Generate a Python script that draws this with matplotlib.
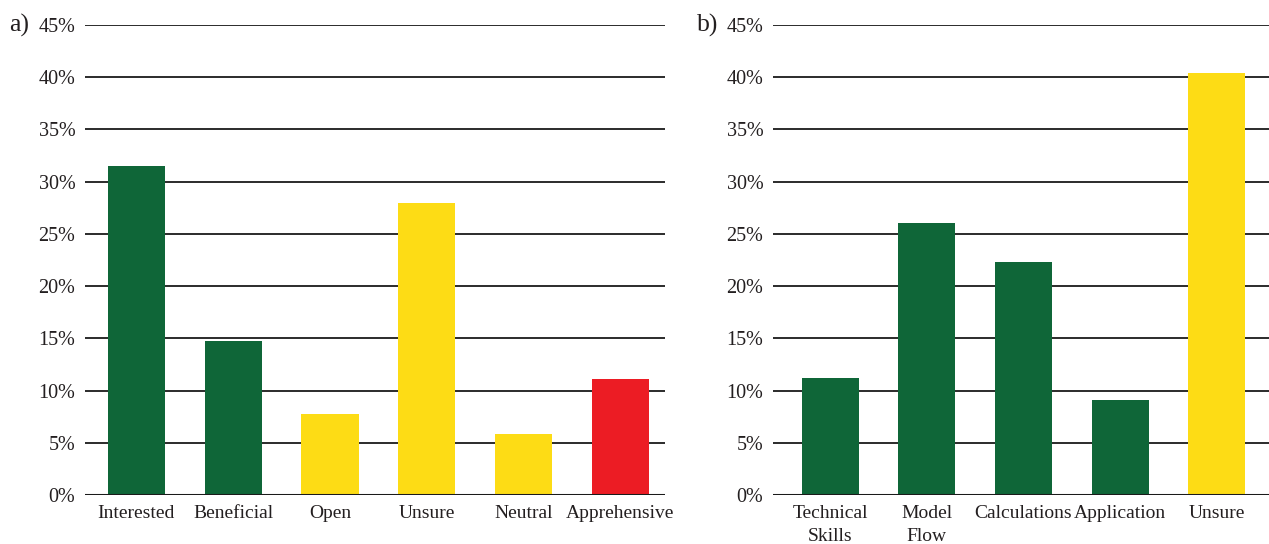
import matplotlib.pyplot as plt

GREEN = '#0f6638'
YELLOW = '#fddc15'
RED = '#ec1c24'

cats_a = ['Interested', 'Beneficial', 'Open', 'Unsure', 'Neutral', 'Apprehensive']
vals_a = [31.5, 14.75, 7.8, 28.0, 5.85, 11.1]
cols_a = [GREEN, GREEN, YELLOW, YELLOW, YELLOW, RED]

cats_b = ['Technical\nSkills', 'Model\nFlow', 'Calculations', 'Application', 'Unsure']
vals_b = [11.25, 26.0, 22.3, 9.1, 40.45]
cols_b = [GREEN, GREEN, GREEN, GREEN, YELLOW]

yticks = [0, 5, 10, 15, 20, 25, 30, 35, 40, 45]

plt.rcParams['font.family'] = ['Liberation Serif', 'DejaVu Serif']

fig = plt.figure(figsize=(12.69, 5.44), dpi=100)
ax_a = fig.add_axes([85 / 1269, 1 - 495 / 544, 580 / 1269, 470 / 544])
ax_b = fig.add_axes([773 / 1269, 1 - 495 / 544, 496 / 1269, 470 / 544])


def draw(ax, cats, vals, cols, xlim, tag, tag_x):
    x = list(range(len(cats)))
    for t in yticks[1:]:
        ax.axhline(t, color='#2b2b2b', lw=1.4, zorder=1)
    ax.axhline(0, color='#1a1a1a', lw=2.2, zorder=3)
    ax.bar(x, vals, width=0.59, color=cols, zorder=2)
    ax.set_xlim(*xlim)
    ax.set_ylim(0, 45)
    ax.set_yticks(yticks)
    ax.set_yticklabels([f'{t}%' for t in yticks], fontsize=14.5, color='#231f20')
    ax.set_xticks(x)
    ax.set_xticklabels(cats, fontsize=14, color='#231f20', linespacing=1.45)
    ax.tick_params(length=0, pad=7, axis='y')
    ax.tick_params(length=0, pad=7, axis='x')
    for s in ax.spines.values():
        s.set_visible(False)
    ax.text(tag_x, 1.0, tag, transform=ax.transAxes, fontsize=18.5,
            ha='left', va='center', color='#231f20')


draw(ax_a, cats_a, vals_a, cols_a, (-0.53, 5.46), 'a)', -76 / 580)
draw(ax_b, cats_b, vals_b, cols_b, (-0.59, 4.54), 'b)', -76 / 496)

fig.savefig('out.png', dpi=100)
